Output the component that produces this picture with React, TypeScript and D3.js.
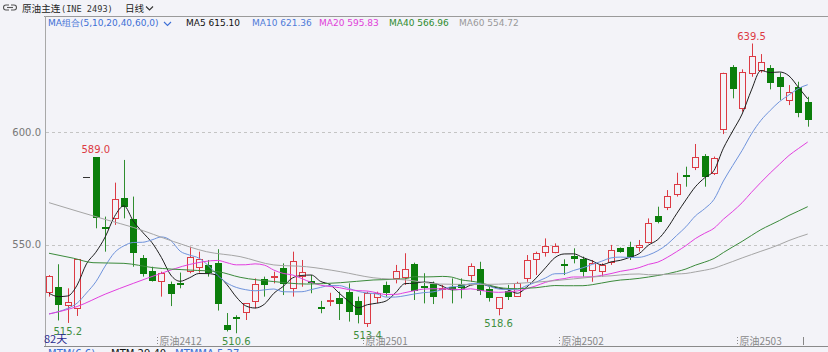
import React from 'react';
import * as d3 from 'd3';

const W = 828;
const H = 352;

// ---- data ----
const opens = [529.1, 531.3, 523.0, 521.7, 580.0, 589.0, 557.9, 562.0, 570.6, 561.4,
  543.9, 538.4, 534.0, 532.5, 532.9, 538.3, 540.0, 540.8, 542.0, 514.3,
  518.0, 520.2, 525.1, 534.6, 535.5, 539.8, 530.6, 536.1, 534.0, 522.2,
  524.8, 526.1, 528.8, 525.0, 515.0, 526.9, 532.1, 535.0, 535.8, 541.4,
  531.5, 532.5, 530.4, 531.4, 532.5, 536.5, 539.0, 530.1, 521.7, 529.6,
  527.2, 535.0, 543.5, 546.9, 546.9, 541.4, 545.0, 543.5, 538.7, 538.4,
  542.4, 548.4, 548.8, 548.8, 551.0, 562.8, 566.6, 572.5, 581.0, 584.7,
  589.5, 581.7, 601.5, 628.9, 610.7, 626.5, 627.7, 628.4, 624.7, 614.4,
  620.3, 613.6];
const highs = [536.5, 541.3, 530.6, 543.6, 580.0, 589.0, 562.5, 577.6, 587.7, 571.4,
  545.4, 540.2, 538.0, 533.6, 537.6, 549.1, 546.9, 543.2, 548.0, 519.6,
  518.6, 524.0, 535.0, 535.8, 538.0, 541.7, 546.9, 543.2, 536.5, 525.0,
  528.6, 529.1, 532.8, 526.9, 529.1, 529.1, 533.6, 541.0, 546.2, 542.0,
  537.3, 533.6, 532.1, 535.0, 535.0, 541.7, 542.4, 531.3, 526.6, 532.1,
  533.5, 545.4, 546.9, 552.8, 550.6, 543.5, 548.4, 544.7, 543.2, 541.7,
  549.9, 548.8, 551.3, 552.1, 561.7, 566.9, 574.3, 582.0, 584.7, 594.8,
  590.3, 589.2, 626.5, 629.9, 628.0, 639.5, 634.8, 629.9, 626.5, 621.0,
  622.5, 615.8];
const lows = [526.9, 516.3, 515.2, 518.3, 580.0, 557.3, 546.9, 558.8, 561.7, 540.2,
  535.8, 533.6, 526.9, 522.7, 530.6, 537.3, 537.6, 535.8, 520.7, 511.4,
  510.6, 516.5, 521.7, 526.9, 532.8, 527.6, 526.9, 531.3, 528.4, 519.5,
  522.7, 516.5, 515.8, 515.0, 513.4, 524.0, 526.9, 532.8, 532.1, 525.4,
  523.9, 523.6, 526.1, 523.9, 526.1, 533.5, 527.6, 524.7, 518.6, 525.4,
  526.9, 533.5, 536.5, 544.7, 546.2, 536.5, 541.7, 535.8, 533.5, 535.8,
  541.0, 546.4, 543.2, 546.9, 550.6, 559.5, 565.4, 571.4, 575.8, 583.2,
  575.8, 581.0, 599.2, 615.1, 609.2, 624.7, 626.5, 619.1, 614.4, 612.1,
  606.7, 602.5];
const closes = [536.1, 523.2, 524.5, 543.5, 580.0, 562.0, 557.2, 570.3, 566.9, 546.2,
  537.0, 534.0, 537.5, 527.9, 532.3, 544.7, 543.5, 537.3, 523.6, 512.0,
  517.2, 523.9, 532.5, 532.1, 536.1, 532.5, 542.9, 538.0, 533.1, 521.8,
  525.4, 523.6, 520.2, 518.7, 528.7, 528.7, 528.7, 538.3, 539.0, 529.6,
  531.3, 526.9, 530.8, 531.0, 530.6, 540.5, 529.6, 526.1, 526.6, 526.9,
  532.8, 543.2, 546.2, 549.4, 549.4, 541.2, 543.5, 538.0, 541.7, 541.0,
  547.6, 546.9, 544.7, 549.9, 559.8, 560.2, 571.8, 577.0, 580.8, 588.9,
  580.3, 588.4, 626.2, 619.1, 626.7, 633.9, 631.4, 621.8, 620.3, 618.1,
  608.7, 605.5];

// moving averages: periods, and readings for the indices that lack full history in view
const maPeriods = [5, 10, 20, 40, 60];
const ma5Head = [[0, 528.4], [1, 526.9], [2, 527.2], [3, 532.0]];
const ma10Head = [[0, 519.2], [1, 520.2], [2, 521.7], [3, 524.0], [4, 528.5], [5, 533.5], [6, 540.5], [7, 546.5], [8, 549.5]];
const ma20Head = [[0, 519.2], [3, 522.5], [6, 528.0], [9, 532.8], [12, 537.3], [15, 541.2], [18, 543.0]];
const ma40Head = [[0, 546.2], [2.6, 544.0], [4.7, 542.0], [8, 541.7], [11.1, 539.8], [15.1, 538.7], [18, 538.0], [20.4, 535.5], [24, 533.6], [27.5, 532.5], [31.1, 533.1], [34.6, 534.3], [38, 534.8]];
const ma60Head = [[0, 568.7], [6.2, 561.0], [9, 557.7], [13.3, 551.4], [16.8, 546.9], [20.4, 544.7], [24, 541.0], [27.5, 540.2], [31.1, 538.0], [34.6, 535.3], [38.2, 534.3], [41.7, 532.5], [46, 532.3], [50, 532.8], [54, 534.0], [58, 535.6]];
const maHeads = [ma5Head, ma10Head, ma20Head, ma40Head, ma60Head];
const maColors = ['#1e1e1e', '#6f93dc', '#e23fdf', '#3b8a3b', '#a5a5a5'];
const maHeaderTexts = ['MA5 615.10', 'MA10 621.36', 'MA20 595.83', 'MA40 566.96', 'MA60 554.72'];
const maHeaderColors = ['#111111', '#4f7bd9', '#e03fd8', '#2e8b2e', '#999999'];
const maHeaderX = [186, 252, 319, 389, 459];

const yTicks = [550, 600];
const xTickIdx = [12, 34, 55, 74, 81];
const xTickLabels = ['原油2412', '原油2501', '原油2502', '原油2503', ''];
const highMarks = [5, 75];
const lowMarks = [2, 20, 34, 48];

const BG = '#f3f3f8';
const RED = '#dc3a44';
const GREEN = '#0b7e0b';
const GREEN_WICK = '#2f8d2f';
const FONT = '"DejaVu Sans", Verdana, sans-serif';
const CJK = '"Noto Sans CJK SC", "DejaVu Sans", sans-serif';

export default function App() {
  const n = closes.length;
  const x = d3.scaleLinear().domain([0, n - 1]).range([49, 807.7]);
  const y = d3.scaleLinear().domain([550, 600]).range([244.7, 132.3]);

  const maLines = maPeriods.map((p, k) => {
    const pts: [number, number][] = maHeads[k].map((d) => [d[0], d[1]] as [number, number]);
    for (let i = p - 1; i < n; i++) {
      pts.push([i, d3.mean(closes.slice(i - p + 1, i + 1)) as number]);
    }
    const line = d3.line<[number, number]>()
      .x((d) => x(d[0]))
      .y((d) => y(d[1]))
      .curve(d3.curveMonotoneX);
    return line(pts) || '';
  });

  const fmt = d3.format('.1f');

  return (
    <svg width={W} height={H} style={{ position: 'absolute', left: 0, top: 0, background: BG }}
      xmlns="http://www.w3.org/2000/svg">
      <rect x={0} y={0} width={W} height={H} fill={BG} />

      {/* header row 1 */}
      <g stroke="#555" fill="none" strokeWidth={1.1}>
        <path d="M9,5 H6 Q3.5,5 3.5,7.5 Q3.5,10 6,10 H9" />
        <path d="M11,5 H14 Q16.5,5 16.5,7.5 Q16.5,10 14,10 H11" />
        <path d="M7,7.5 H13" />
      </g>
      <text x={22} y={12} fontFamily={CJK} fontSize={9.6} fill="#222">原油主连</text>
      <text x={61} y={12} fontFamily='"DejaVu Sans Mono", monospace' fontSize={8.6} fill="#333">(INE 2493)</text>
      <text x={125} y={12} fontFamily={CJK} fontSize={9.6} fill="#222">日线</text>
      <polyline points="146,6.5 149.5,10 153,6.5" fill="none" stroke="#333" strokeWidth={1.1} />

      <line x1={44} x2={W} y1={16.5} y2={16.5} stroke="#9a9a9a" />
      <line x1={45.5} x2={45.5} y1={16} y2={346} stroke="#a8a8a8" />

      {/* header row 2 */}
      <text x={48} y={26} fontFamily={FONT} fontSize={9} fill="#3d6fd6">MA组合(5,10,20,40,60,0)</text>
      <polyline points="164,22 167.5,25.5 171,22" fill="none" stroke="#3d6fd6" strokeWidth={1.1} />
      {maHeaderTexts.map((t, k) => (
        <text key={t} x={maHeaderX[k]} y={26} fontFamily={FONT} fontSize={9} fill={maHeaderColors[k]}>{t}</text>
      ))}

      {/* grid + y labels */}
      {yTicks.map((v) => (
        <g key={v}>
          <line x1={46} x2={W} y1={Math.round(y(v)) + 0.5} y2={Math.round(y(v)) + 0.5}
            stroke="#c4c4c4" strokeDasharray="3,3" />
          <text x={41} y={y(v) + 3.5} textAnchor="end" fontFamily={FONT} fontSize={10} fill="#777">{fmt(v)}</text>
        </g>
      ))}

      {/* candles */}
      {closes.map((c, i) => {
        const o = opens[i];
        const cx = Math.round(x(i));
        const wx = cx + 0.5;
        if (o === c && highs[i] === lows[i]) {
          return <line key={i} x1={cx - 3} x2={cx + 4} y1={Math.round(y(c)) + 0.5} y2={Math.round(y(c)) + 0.5} stroke="#333" />;
        }
        const up = c >= o;
        const top = Math.round(y(Math.max(o, c)));
        const bot = Math.round(y(Math.min(o, c)));
        const wick = (
          <line x1={wx} x2={wx} y1={y(highs[i])} y2={y(lows[i])} stroke={up ? RED : GREEN_WICK} />
        );
        if (up) {
          return (
            <g key={i}>
              {wick}
              <rect x={cx - 3 + 0.5} y={top + 0.5} width={6} height={Math.max(bot - top, 1)} fill={BG} stroke={RED} />
            </g>
          );
        }
        return (
          <g key={i}>
            {wick}
            <rect x={cx - 3} y={top} width={7} height={Math.max(bot - top, 2)} fill={GREEN} />
          </g>
        );
      })}

      {/* moving averages */}
      {maLines.map((d, k) => (
        <path key={k} d={d} fill="none" stroke={maColors[k]} strokeWidth={1} />
      ))}

      {/* extreme labels */}
      {highMarks.map((i) => (
        <text key={'h' + i} x={x(i)} y={y(highs[i]) - 4} textAnchor="middle" fontFamily={FONT} fontSize={10} fill={RED}>{fmt(highs[i])}</text>
      ))}
      {lowMarks.map((i) => (
        <text key={'l' + i} x={x(i)} y={y(lows[i]) + 12} textAnchor="middle" fontFamily={FONT} fontSize={10} fill="#3f8f3f">{fmt(lows[i])}</text>
      ))}

      {/* x axis ticks */}
      {xTickIdx.map((idx, k) => {
        const tx = Math.round(x(idx - 0.5)) + 0.5;
        return (
          <g key={idx}>
            <line x1={tx} x2={tx} y1={337} y2={345} stroke="#888" strokeDasharray={xTickLabels[k] ? '1,2' : undefined} />
            {xTickLabels[k] && (
              <text x={tx + 2} y={345} fontFamily={CJK} fontSize={10} fill="#888">{xTickLabels[k]}</text>
            )}
          </g>
        );
      })}
      <text x={44} y={343} fontFamily={CJK} fontSize={11} fill="#2b2b8f">82天</text>
      <line x1={44} x2={W} y1={346.5} y2={346.5} stroke="#8a8a8a" />

      {/* indicator header, cut off at the bottom */}
      <text x={48} y={357} fontFamily={FONT} fontSize={10} fill="#3d6fd6">MTM(6,6)</text>
      <text x={111} y={357} fontFamily={FONT} fontSize={10} fill="#111">MTM 29.40</text>
      <text x={175} y={357} fontFamily={FONT} fontSize={10} fill="#3d6fd6">MTMMA 5.37</text>
    </svg>
  );
}
